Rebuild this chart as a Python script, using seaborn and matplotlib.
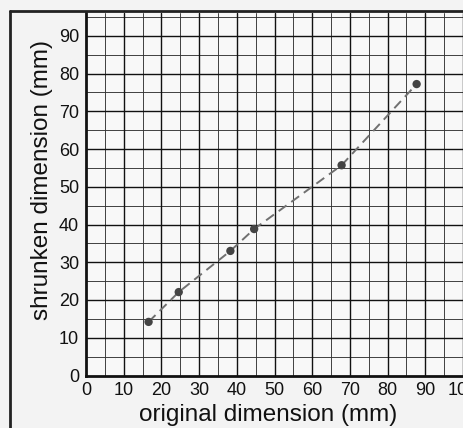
import numpy as np
import pandas as pd
import matplotlib
matplotlib.use('Agg')
import matplotlib.pyplot as plt
import seaborn as sns
from matplotlib.lines import Line2D

# values
original = [16.6, 24.6, 38.3, 44.6, 67.8, 87.7]
shrunken = [14.2, 22.1, 33.0, 38.8, 55.7, 77.2]
x_ticks = [0, 10, 20, 30, 40, 50, 60, 70, 80, 90, 100]
y_ticks = [0, 10, 20, 30, 40, 50, 60, 70, 80, 90]

df = pd.DataFrame({'original': original, 'shrunken': shrunken})

sns.set_style('white')
plt.rcParams['font.family'] = ['Liberation Sans', 'DejaVu Sans']

W, H = 463, 428
fig = plt.figure(figsize=(W / 100, H / 100), dpi=100, facecolor='#f3f3f3')
ax = fig.add_axes([86 / W, (H - 375.5) / H, (W - 86) / W, (375.5 - 13) / H])
ax.set_facecolor('#f8f8f8')

# graph paper: thin lines every 5, slightly heavier every 10
for v in np.arange(5, 100, 10):
    ax.axvline(v, color='#333333', lw=0.65, zorder=1)
    ax.axhline(v, color='#333333', lw=0.65, zorder=1)
for v in np.arange(10, 101, 10):
    ax.axvline(v, color='#111111', lw=1.0, zorder=1)
    ax.axhline(v, color='#111111', lw=1.0, zorder=1)

sns.lineplot(data=df, x='original', y='shrunken', sort=False, ax=ax,
             color='#707070', lw=1.4, linestyle=(0, (5, 3)), zorder=3)
sns.scatterplot(data=df, x='original', y='shrunken', ax=ax,
                color='#444444', s=36, edgecolor='none', zorder=4)

ax.set_xlim(0, (W - 86) / 3.786)
ax.set_ylim(0, (375.5 - 13) / 3.775)
ax.set_xticks(x_ticks)
ax.set_yticks(y_ticks)
ax.tick_params(length=0, labelsize=13, pad=5, colors='#111111')
for s in ['top', 'right']:
    ax.spines[s].set_visible(False)
for s in ['left', 'bottom']:
    ax.spines[s].set_color('#111111')
    ax.spines[s].set_linewidth(2)

ax.set_xlabel('original dimension (mm)', fontsize=17.5, labelpad=3, color='#111111')
ax.set_ylabel('shrunken dimension (mm)', fontsize=17.5, labelpad=4, color='#111111')
ax.xaxis.label.set_x(0.483)
ax.yaxis.label.set_y(0.54)

# scanned page frame
fig.add_artist(Line2D([10 / W, 10 / W], [0, 1 - 11 / H], color='#222222', lw=2,
                      transform=fig.transFigure))
fig.add_artist(Line2D([10 / W, 1], [1 - 11 / H, 1 - 11 / H], color='#222222', lw=2,
                      transform=fig.transFigure))

fig.savefig('out.png', dpi=100, facecolor=fig.get_facecolor())
